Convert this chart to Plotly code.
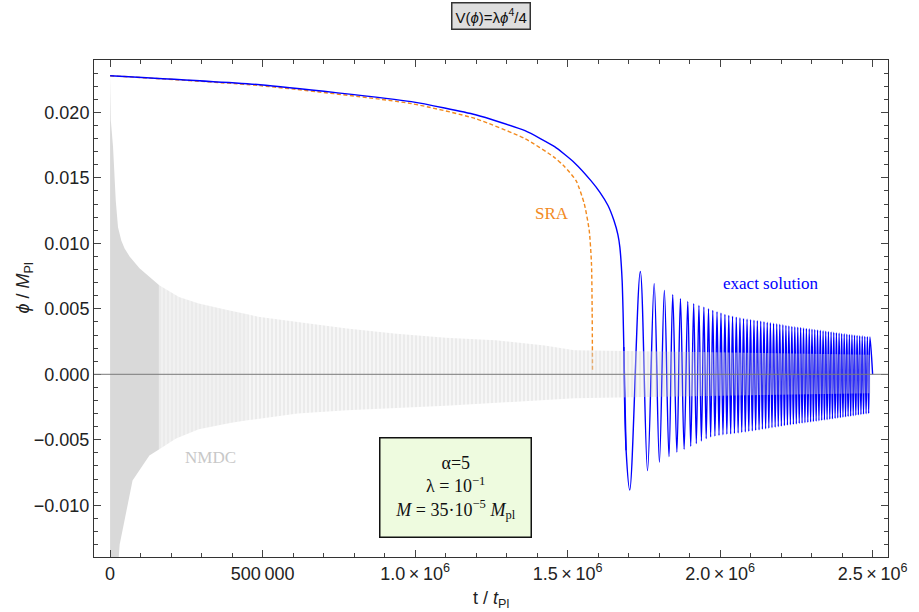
import plotly.graph_objects as go

# ---------------- data (t in units of 10^6 t_Pl, phi in M_Pl) ----------------
# exact solution: slow-roll part
exact_roll_t = [0.0, 0.4916, 0.9875, 1.1982, 1.3603, 1.4574, 1.5223, 1.5764, 1.6066, 1.6325, 1.6520,
                1.6649, 1.6713, 1.6788, 1.6820, 1.6843, 1.6918]
exact_roll_v = [0.0228, 0.02211, 0.02082, 0.01982, 0.01860, 0.01738, 0.01616, 0.01479, 0.01388, 0.01289, 0.01174,
                0.01067, 0.00971, 0.00717, 0.00465, 0.00208, -0.0058]

# exact solution: oscillation maxima
exact_peak_t = [1.7384, 1.7838, 1.8172, 1.8447, 1.8700, 1.8940, 1.9134, 1.9306, 1.9468, 1.9620,
                1.9760, 1.9899, 2.0029, 2.0158, 2.0285, 2.0408, 2.0531, 2.0651, 2.0768, 2.0884,
                2.0998, 2.1111, 2.1221, 2.1332, 2.1439, 2.1546, 2.1649, 2.1753, 2.1857, 2.1957,
                2.2058, 2.2158, 2.2255, 2.2353, 2.2450, 2.2547, 2.2641, 2.2735, 2.2829, 2.2923,
                2.3013, 2.3104, 2.3195, 2.3286, 2.3377, 2.3464, 2.3552, 2.3639, 2.3727, 2.3814,
                2.3902, 2.3986, 2.4070, 2.4155, 2.4239, 2.4323, 2.4407, 2.4492, 2.4576, 2.4660,
                2.4744, 2.4829, 2.4913]
exact_peak_v = [0.00785, 0.00692, 0.00640, 0.00608, 0.00577, 0.00557, 0.00539, 0.00526, 0.00513, 0.00501,
                0.00488, 0.00478, 0.00468, 0.00458, 0.00450, 0.00443, 0.00437, 0.00432, 0.00427, 0.00422,
                0.00418, 0.00414, 0.00410, 0.00406, 0.00402, 0.00398, 0.00394, 0.00390, 0.00386, 0.00382,
                0.00378, 0.00374, 0.00370, 0.00366, 0.00363, 0.00360, 0.00357, 0.00354, 0.00351, 0.00348,
                0.00345, 0.00342, 0.00339, 0.00336, 0.00333, 0.00330, 0.00327, 0.00324, 0.00321, 0.00318,
                0.00315, 0.00312, 0.00310, 0.00307, 0.00304, 0.00302, 0.00299, 0.00297, 0.00294, 0.00292,
                0.00290, 0.00288, 0.00286]
# exact solution: oscillation minima
exact_trough_t = [1.7037, 1.7620, 1.8010, 1.8324, 1.8583, 1.8820, 1.9037, 1.9220, 1.9387, 1.9544,
                  1.9690, 1.9830, 1.9964, 2.0094, 2.0222, 2.0347, 2.0470, 2.0591, 2.0710, 2.0826,
                  2.0941, 2.1055, 2.1166, 2.1277, 2.1386, 2.1493, 2.1598, 2.1701, 2.1805, 2.1907,
                  2.2008, 2.2108, 2.2207, 2.2304, 2.2402, 2.2499, 2.2594, 2.2688, 2.2782, 2.2876,
                  2.2968, 2.3059, 2.3150, 2.3241, 2.3332, 2.3421, 2.3508, 2.3596, 2.3683, 2.3771,
                  2.3858, 2.3944, 2.4028, 2.4113, 2.4197, 2.4281, 2.4365, 2.4450, 2.4534, 2.4618,
                  2.4702, 2.4787, 2.4871]
exact_trough_v = [-0.00884, -0.00735, -0.00670, -0.00628, -0.00594, -0.00572, -0.00549, -0.00529, -0.00509, -0.00491,
                  -0.00478, -0.00472, -0.00467, -0.00462, -0.00458, -0.00455, -0.00452, -0.00448, -0.00444, -0.00440,
                  -0.00436, -0.00432, -0.00428, -0.00424, -0.00420, -0.00416, -0.00412, -0.00408, -0.00404, -0.00400,
                  -0.00396, -0.00392, -0.00388, -0.00385, -0.00382, -0.00379, -0.00376, -0.00373, -0.00370, -0.00367,
                  -0.00364, -0.00361, -0.00358, -0.00355, -0.00352, -0.00349, -0.00346, -0.00343, -0.00340, -0.00337,
                  -0.00334, -0.00331, -0.00328, -0.00325, -0.00322, -0.00319, -0.00316, -0.00313, -0.00310, -0.00307,
                  -0.00304, -0.00301, -0.00298]
exact_end_t = [2.5000]
exact_end_v = [0.0000]

# slow-roll approximation
sra_t = [0.0, 0.4916, 0.9875, 1.1982, 1.3603, 1.4574, 1.4898, 1.5277, 1.5547, 1.5709, 1.5783, 1.5806, 1.5816]
sra_v = [0.0228, 0.02204, 0.02067, 0.01952, 0.01799, 0.01655, 0.01586, 0.01479, 0.01302, 0.01098, 0.00844, 0.00465, 0.00018]

# NMDC: envelope of the dense oscillation
nmdc_up_t = [0.0, 0.0023, 0.0097, 0.0185, 0.0259, 0.0369, 0.0476, 0.0639, 0.0963, 0.161, 0.2259,
             0.2907, 0.388, 0.4852, 0.6148, 0.7768, 0.9389, 1.101, 1.263, 1.425, 1.5223, 1.911, 2.494]
nmdc_up_v = [0.0228, 0.0194, 0.01733, 0.01327, 0.01123, 0.0102, 0.0096, 0.0090, 0.0081, 0.0068, 0.0059,
             0.0054, 0.0049, 0.0044, 0.0040, 0.0035, 0.0031, 0.0028, 0.0026, 0.0022, 0.00183, 0.0017, 0.0015]
nmdc_lo_t = [0.0, 0.0217, 0.0314, 0.0476, 0.0736, 0.1287, 0.2162, 0.2907, 0.3977, 0.5079, 0.6148,
             0.7768, 1.101, 1.5223, 2.494]
nmdc_lo_v = [-0.016, -0.016, -0.0130, -0.0111, -0.0081, -0.0062, -0.0049, -0.0042, -0.0037, -0.0033, -0.0030,
             -0.00275, -0.0024, -0.00183, -0.00145]

x_tickvals = [0, 0.5, 1.0, 1.5, 2.0, 2.5]
x_ticktext = ["0", "500\u2009000", "1.0\u2009×\u200910<sup>6</sup>", "1.5\u2009×\u200910<sup>6</sup>",
              "2.0\u2009×\u200910<sup>6</sup>", "2.5\u2009×\u200910<sup>6</sup>"]
y_tickvals = [-0.010, -0.005, 0.000, 0.005, 0.010, 0.015, 0.020]
y_ticktext = ["\u22120.010", "\u22120.005", "0.000", "0.005", "0.010", "0.015", "0.020"]

M = 1e6

# ---------------- build series ----------------
ext = sorted(list(zip(exact_peak_t, exact_peak_v)) + list(zip(exact_trough_t, exact_trough_v)))
osc_t = [exact_roll_t[-2], exact_roll_t[-1]] + [p[0] for p in ext] + exact_end_t
osc_v = [exact_roll_v[-2], exact_roll_v[-1]] + [p[1] for p in ext] + exact_end_v


def interp_env(ts, vs, t):
    for i in range(len(ts) - 1):
        if ts[i] <= t <= ts[i + 1]:
            f = (t - ts[i]) / (ts[i + 1] - ts[i])
            return vs[i] + f * (vs[i + 1] - vs[i])
    return vs[-1]


def band(t0, t1):
    ut = [t0] + [t for t in nmdc_up_t if t0 < t < t1] + [t1]
    lt = [t0] + [t for t in nmdc_lo_t if t0 < t < t1] + [t1]
    uv = [interp_env(nmdc_up_t, nmdc_up_v, t) for t in ut]
    lv = [interp_env(nmdc_lo_t, nmdc_lo_v, t) for t in lt]
    return [t * M for t in ut + lt[::-1]], uv + lv[::-1]


fig = go.Figure()

fig.add_trace(go.Scatter(x=[t * M for t in sra_t], y=sra_v, mode="lines",
                         line=dict(color="#f28a1e", width=1.4, dash="4px,2.5px", shape="spline", smoothing=0.6),
                         hoverinfo="skip", showlegend=False))
fig.add_trace(go.Scatter(x=[t * M for t in exact_roll_t], y=exact_roll_v, mode="lines",
                         line=dict(color="#0000ff", width=1.4, shape="spline", smoothing=0.5),
                         hoverinfo="skip", showlegend=False))
fig.add_trace(go.Scatter(x=[t * M for t in osc_t], y=osc_v, mode="lines",
                         line=dict(color="#0000ff", width=1.4, shape="spline", smoothing=1.0),
                         hoverinfo="skip", showlegend=False))

# NMDC band: solid where the oscillation is densest, striped further right
segments = [(0.0, 0.16, None), (0.16, 0.45, 0.85), (0.45, 2.494, 0.74)]
for t0, t1, sol in segments:
    bx, by = band(t0, t1)
    if sol is None:
        fig.add_trace(go.Scatter(x=bx, y=by, mode="lines", fill="toself", fillcolor="#d9d9d9",
                                 line=dict(width=0), hoverinfo="skip", showlegend=False))
    else:
        fig.add_trace(go.Scatter(x=bx, y=by, mode="lines", fill="toself", fillcolor="rgba(0,0,0,0)",
                                 line=dict(width=0),
                                 fillpattern=dict(shape="|", size=4, solidity=sol,
                                                  fgcolor="rgba(212,212,212,0.92)", bgcolor="rgba(0,0,0,0)"),
                                 hoverinfo="skip", showlegend=False))

tickfont = dict(family="Liberation Sans, Arial, sans-serif", size=18, color="#222")
fig.update_xaxes(range=[-0.0528 * M, 2.5505 * M], tickmode="array",
                 tickvals=[v * M for v in x_tickvals], ticktext=x_ticktext,
                 ticks="inside", ticklen=7, tickwidth=1, tickcolor="#444",
                 minor=dict(ticks="inside", ticklen=4, dtick=1e5, tick0=0, tickcolor="#444", showgrid=False),
                 showline=True, linecolor="#333", linewidth=1, mirror="ticks",
                 showgrid=False, zeroline=False, tickfont=tickfont)
fig.update_yaxes(range=[-0.01395, 0.0240], tickmode="array",
                 tickvals=y_tickvals, ticktext=y_ticktext,
                 ticks="inside", ticklen=7, tickwidth=1, tickcolor="#444",
                 minor=dict(ticks="inside", ticklen=4, dtick=0.001, tick0=0, tickcolor="#444", showgrid=False),
                 showline=True, linecolor="#333", linewidth=1, mirror="ticks",
                 showgrid=False, zeroline=False, tickfont=tickfont)

serif = "Liberation Serif, Times New Roman, serif"
sans = "Liberation Sans, Arial, sans-serif"
ann = [
    dict(x=0.5, y=1.0885, xref="paper", yref="paper", xanchor="center", yanchor="middle",
         text="V(<i>ϕ</i>)=λ<i>ϕ</i><sup>4</sup>/4",
         showarrow=False, font=dict(family=sans, size=15, color="#111"),
         bgcolor="#dedede", bordercolor="#333", borderwidth=1.5, borderpad=3),
    dict(x=-0.0878, y=0.541, xref="paper", yref="paper", xanchor="center", yanchor="middle",
         text="<i>ϕ</i> / <i>M</i><sub>Pl</sub>",
         textangle=-90, showarrow=False, font=dict(family=sans, size=18, color="#222")),
    dict(x=0.5, y=-0.0865, xref="paper", yref="paper", xanchor="center", yanchor="middle",
         text="t / <i>t</i><sub>Pl</sub>",
         showarrow=False, font=dict(family=sans, size=18, color="#222")),
    dict(x=1.4477 * M, y=0.01228, text="SRA", showarrow=False, xanchor="center", yanchor="middle",
         font=dict(family=serif, size=17, color="#f28a1e")),
    dict(x=2.164 * M, y=0.00694, text="exact solution", showarrow=False, xanchor="center", yanchor="middle",
         font=dict(family=serif, size=17, color="#0000ff")),
    dict(x=0.3296 * M, y=-0.00633, text="NMDC", showarrow=False, xanchor="center", yanchor="middle",
         font=dict(family=serif, size=17, color="#c8c8c8")),
    dict(x=0.4558, y=0.1408, xref="paper", yref="paper", xanchor="center", yanchor="middle",
         text="α=5<br>λ = 10<sup>−1</sup><br><i>M</i> = 35·10<sup>−5</sup> <i>M</i><sub>pl</sub>",
         showarrow=False, font=dict(family=serif, size=18, color="#111"),
         bgcolor="#eefbdf", bordercolor="#111", borderwidth=1.5, borderpad=5,
         width=140, height=88, align="center"),
]

fig.update_layout(width=919, height=612, margin=dict(l=94, r=22, t=60, b=55),
                  plot_bgcolor="white", paper_bgcolor="white", annotations=ann,
                  shapes=[dict(type="line", xref="paper", x0=0, x1=1, yref="y", y0=0, y1=0,
                               line=dict(color="#7a7a7a", width=1), layer="above")])

fig.write_html("out.html")
